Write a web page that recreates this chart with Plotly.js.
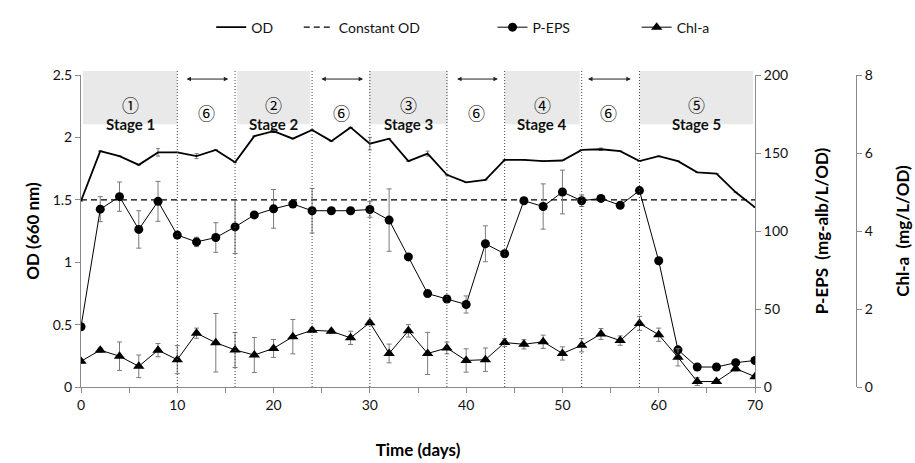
<!DOCTYPE html>
<html>
<head>
<meta charset="utf-8">
<script src="https://cdn.plot.ly/plotly-3.0.1.min.js"></script>
<style>html,body{margin:0;padding:0;background:#fff;}#chart{width:915px;height:463px;}</style>
</head>
<body>
<div id="chart"></div>
<script>
// ---- data ----
const days = [0,2,4,6,8,10,12,14,16,18,20,22,24,26,28,30,32,34,36,38,40,42,44,46,48,50,52,54,56,58,60,62,64,66,68,70];
const odValues = [1.49,1.89,1.85,1.78,1.88,1.88,1.85,1.90,1.80,2.01,2.05,1.99,2.06,1.97,2.08,1.95,1.99,1.81,1.87,1.70,1.64,1.66,1.82,1.82,1.81,1.815,1.90,1.905,1.89,1.81,1.85,1.81,1.72,1.71,1.56,1.44];
const odErr = [0,0,0,0,0.03,0,0.02,0,0,0,0.01,0,0,0,0,0.05,0,0,0.02,0,0,0,0,0,0,0,0,0.01,0,0,0,0,0,0,0,0];
const constantOD = [1.5,1.5];
const constantDays = [0,70];
const pEPS = [38.6,114,122,101,119,97.4,93,95.8,102.6,110.3,114.2,117.3,113,113,113,113.8,107,83.4,59.9,56.4,52.9,91.8,85.4,119.4,115.7,125,119.4,120.9,116.5,125.9,80.9,23.8,12.8,12.8,15.6,17];
const pEPSErr = [0,8,9.4,12,12.8,2,3,9.5,17,0,12.4,0,14.3,0,0,5,20,0,0,2,5.5,11.5,0,0,14.5,14,3.7,0,0,0,0,0,0,0,0,0];
const chla = [0.66,0.945,0.79,0.53,0.945,0.70,1.38,1.135,0.95,0.82,0.99,1.29,1.455,1.43,1.26,1.65,0.86,1.44,0.86,1.0,0.68,0.70,1.14,1.095,1.16,0.86,1.07,1.36,1.19,1.63,1.34,0.76,0.14,0.14,0.47,0.265];
const chlaErr = [0.05,0.05,0.365,0.29,0.17,0.36,0.13,0.75,0.45,0.45,0.23,0.44,0.06,0.05,0.17,0.05,0.24,0.16,0.54,0.15,0.3,0.3,0.1,0.12,0.17,0.17,0.17,0.14,0.12,0.18,0.17,0.22,0.1,0.04,0.06,0.04];
// stage boxes and recovery (6) periods
const stageStart = [0.2,16.2,29.9,44.0,58.0];
const stageEnd   = [10.0,23.8,38.1,51.8,69.8];
const stageNum   = ['①','②','③','④','⑤'];
const stageLabel = ['Stage 1','Stage 2','Stage 3','Stage 4','Stage 5'];
const dividers   = [10,16,24,30,38,44,52,58];
const restStart  = [10.8,24.8,38.9,52.5];
const restEnd    = [15.3,29.3,43.3,57.1];
const restLabel  = '⑥';
const xTicks = [0,10,20,30,40,50,60,70];
const odTicks = [0,0.5,1,1.5,2,2.5];
const epsTicks = [0,50,100,150,200];
const chlTicks = [0,2,4,6,8];

const FONT = 'Lato, "Open Sans", "Noto Sans", sans-serif';
const CJK = '"Noto Sans CJK JP", "DejaVu Sans", sans-serif';
const AX = '#8a8a8a';
const ERR = '#7a7a7a';

const traces = [
  {x: days, y: odValues, name: 'OD', type: 'scatter', mode: 'lines',
   line: {color: '#000', width: 1.8},
   error_y: {type: 'data', array: odErr, visible: true, color: ERR, thickness: 1, width: 2},
   legend: 'legend'},
  {x: constantDays, y: constantOD, name: 'Constant OD', type: 'scatter', mode: 'lines',
   line: {color: '#000', width: 1.3, dash: '6px,4px'}, legend: 'legend2'},
  {x: days, y: pEPS, name: 'P-EPS', type: 'scatter', mode: 'lines+markers', yaxis: 'y2',
   line: {color: '#000', width: 1}, marker: {symbol: 'circle', size: 9, color: '#000'},
   error_y: {type: 'data', array: pEPSErr, visible: true, color: ERR, thickness: 1, width: 2.5},
   legend: 'legend3'},
  {x: days, y: chla, name: 'Chl-a', type: 'scatter', mode: 'lines+markers', yaxis: 'y3',
   line: {color: '#000', width: 1}, marker: {symbol: 'triangle-up', size: 10, color: '#000'},
   error_y: {type: 'data', array: chlaErr, visible: true, color: ERR, thickness: 1, width: 2.5},
   legend: 'legend4'}
];

const shapes = [];
const annotations = [];
for (let i = 0; i < stageStart.length; i++) {
  shapes.push({type: 'rect', xref: 'x', yref: 'paper', x0: stageStart[i], x1: stageEnd[i],
    y0: 0.842, y1: 1.013, fillcolor: '#e9e9e9', line: {width: 0}, layer: 'below'});
  const cx = (stageStart[i] + stageEnd[i]) / 2;
  annotations.push({xref: 'x', yref: 'paper', x: cx, y: 0.951, text: stageNum[i], showarrow: false,
    font: {family: CJK, size: 17, color: '#000'}});
  annotations.push({xref: 'x', yref: 'paper', x: cx, y: 0.878, text: '<b>' + stageLabel[i] + '</b>', showarrow: false,
    font: {family: FONT, size: 15, color: '#111'}});
}
for (const d of dividers) {
  shapes.push({type: 'line', xref: 'x', yref: 'paper', x0: d, x1: d, y0: 0, y1: 1.013,
    line: {color: '#444', width: 1, dash: '1px,2px'}, layer: 'above'});
}
for (let i = 0; i < restStart.length; i++) {
  const cx = (restStart[i] + restEnd[i]) / 2;
  annotations.push({xref: 'x', yref: 'paper', x: cx, y: 0.925, text: restLabel, showarrow: false,
    font: {family: CJK, size: 17, color: '#000'}});
  annotations.push({xref: 'x', yref: 'paper', x: restEnd[i], y: 0.987, axref: 'x', ayref: 'pixel',
    ax: restStart[i], ay: 0, text: '', showarrow: true, arrowside: 'end+start',
    arrowhead: 2, arrowsize: 0.9, arrowwidth: 1, arrowcolor: '#222'});
}

const axFont = {family: FONT, size: 14, color: '#111'};
const titleFont = {family: FONT, size: 17, color: '#000', weight: 'bold'};
const legFont = {family: FONT, size: 14, color: '#111'};
function leg(x) {
  return {x: x, y: 1.152, xanchor: 'left', yanchor: 'middle', orientation: 'h',
    bgcolor: 'rgba(0,0,0,0)', font: legFont, borderwidth: 0};
}

const layout = {
  width: 915, height: 463,
  margin: {l: 81, r: 59, t: 66, b: 76},
  paper_bgcolor: '#fff', plot_bgcolor: 'rgba(0,0,0,0)',
  font: {family: FONT},
  showlegend: true,
  legend: leg(0.168), legend2: leg(0.281), legend3: leg(0.531), legend4: leg(0.717),
  xaxis: {domain: [0, 674/775], range: [0, 70], tickvals: xTicks, ticks: 'outside', ticklen: 5,
    tickcolor: AX, showline: true, linecolor: AX, linewidth: 1, showgrid: false, zeroline: false,
    minor: {dtick: 5, ticks: 'outside', ticklen: 5, tickcolor: AX, showgrid: false},
    tickfont: axFont, title: {text: 'Time (days)', font: titleFont, standoff: 32}},
  yaxis: {range: [0, 2.5], tickvals: odTicks, ticks: 'outside', ticklen: 5, tickcolor: AX,
    showline: true, linecolor: AX, showgrid: false, zeroline: false, tickfont: axFont,
    title: {text: 'OD (660 nm)', font: titleFont, standoff: 8}},
  yaxis2: {overlaying: 'y', side: 'right', anchor: 'x', range: [0, 200], tickvals: epsTicks,
    ticks: 'outside', ticklen: 5, tickcolor: AX, showline: true, linecolor: AX, showgrid: false,
    zeroline: false, tickfont: axFont,
    title: {text: 'P-EPS  (mg-alb/L/OD)', font: titleFont, standoff: 28}},
  yaxis3: {overlaying: 'y', side: 'right', anchor: 'free', position: 1, range: [0, 8], tickvals: chlTicks,
    ticks: 'outside', ticklen: 5, tickcolor: AX, showline: true, linecolor: AX, showgrid: false,
    zeroline: false, tickfont: axFont,
    title: {text: 'Chl-a  (mg/L/OD)', font: titleFont, standoff: 25}},
  shapes: shapes,
  annotations: annotations
};

Plotly.newPlot('chart', traces, layout, {displayModeBar: false, staticPlot: true});
</script>
</body>
</html>
